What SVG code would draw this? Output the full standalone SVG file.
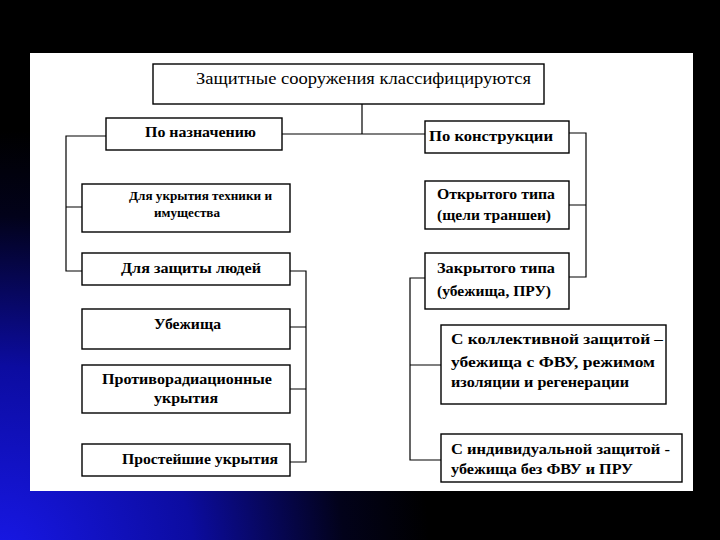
<svg xmlns="http://www.w3.org/2000/svg" width="720" height="540" viewBox="0 0 720 540">
<defs>
<radialGradient id="bg" cx="0" cy="560" r="430" gradientUnits="userSpaceOnUse">
<stop offset="0" stop-color="#1818e8"/>
<stop offset="0.45" stop-color="#0c0ca0"/>
<stop offset="0.8" stop-color="#02021a"/>
<stop offset="1" stop-color="#000"/>
</radialGradient>
<style>
.box{fill:#fff;stroke:#000;stroke-width:1.4}
.ln{fill:none;stroke:#000;stroke-width:1.2}
.t{font-size:16px}
.b{font-size:15px;font-weight:bold}
.s{font-size:12px;font-weight:bold}
.m{font-size:14px;font-weight:bold}
</style>
</defs>
<rect width="720" height="540" fill="#000"/>
<rect width="720" height="540" fill="url(#bg)"/>
<rect x="30" y="53" width="663" height="438" fill="#fff"/>

<g id="connectors">
<path class="ln" d="M362,104 V134 M282,134 H425"/>
<path class="ln" d="M106,136 H66 V271 H82 M66,207 H82"/>
<path class="ln" d="M290,271 H306 V462 H290 M290,327 H306 M290,389 H306"/>
<path class="ln" d="M569,133 H586 V277 H569 M569,205 H586"/>
<path class="ln" d="M425,278 H410 V460 H441 M410,365 H441"/>
</g>

<g font-family="Liberation Serif, Times New Roman, DejaVu Serif, serif" fill="#000">
<g id="n-root"><rect class="box" x="153" y="64" width="391" height="40"/>
<text class="t" x="196" y="84" textLength="335" lengthAdjust="spacingAndGlyphs">Защитные сооружения классифицируются</text></g>

<g id="n-naznach"><rect class="box" x="106" y="118" width="176" height="32"/>
<text class="b" x="145" y="137" textLength="111" lengthAdjust="spacingAndGlyphs">По назначению</text></g>

<g id="n-konstr"><rect class="box" x="425" y="121" width="144" height="32"/>
<text class="b" x="429" y="141" textLength="124" lengthAdjust="spacingAndGlyphs">По конструкции</text></g>

<g id="n-tehnika"><rect class="box" x="82" y="184" width="208" height="48"/>
<text class="s" x="129" y="200" textLength="143" lengthAdjust="spacingAndGlyphs">Для укрытия техники и</text>
<text class="s" x="154" y="217" textLength="66" lengthAdjust="spacingAndGlyphs">имущества</text></g>

<g id="n-lyudi"><rect class="box" x="82" y="253" width="208" height="32"/>
<text class="b" x="121" y="273" textLength="140" lengthAdjust="spacingAndGlyphs">Для защиты людей</text></g>

<g id="n-ubezh"><rect class="box" x="82" y="309" width="208" height="40"/>
<text class="b" x="154" y="329" textLength="67" lengthAdjust="spacingAndGlyphs">Убежища</text></g>

<g id="n-pru"><rect class="box" x="82" y="365" width="208" height="48"/>
<text class="b" x="102" y="384" textLength="170" lengthAdjust="spacingAndGlyphs">Противорадиационные</text>
<text class="b" x="154" y="403" textLength="64" lengthAdjust="spacingAndGlyphs">укрытия</text></g>

<g id="n-prost"><rect class="box" x="82" y="444" width="208" height="32"/>
<text class="b" x="122" y="464" textLength="156" lengthAdjust="spacingAndGlyphs">Простейшие укрытия</text></g>

<g id="n-otkr"><rect class="box" x="425" y="181" width="144" height="48"/>
<text class="b" x="437" y="199" textLength="118" lengthAdjust="spacingAndGlyphs">Открытого типа</text>
<text class="b" x="437" y="220" textLength="114" lengthAdjust="spacingAndGlyphs">(щели траншеи)</text></g>

<g id="n-zakr"><rect class="box" x="425" y="253" width="144" height="56"/>
<text class="b" x="437" y="273" textLength="118" lengthAdjust="spacingAndGlyphs">Закрытого типа</text>
<text class="b" x="437" y="296" textLength="114" lengthAdjust="spacingAndGlyphs">(убежища, ПРУ)</text></g>

<g id="n-koll"><rect class="box" x="441" y="325" width="225" height="79"/>
<text class="m" x="451" y="344" textLength="212" lengthAdjust="spacingAndGlyphs">С коллективной защитой –</text>
<text class="m" x="451" y="367" textLength="204" lengthAdjust="spacingAndGlyphs">убежища  с  ФВУ,  режимом</text>
<text class="m" x="451" y="387" textLength="178" lengthAdjust="spacingAndGlyphs">изоляции и регенерации</text></g>

<g id="n-indiv"><rect class="box" x="441" y="434" width="241" height="48"/>
<text class="m" x="451" y="454" textLength="219" lengthAdjust="spacingAndGlyphs">С индивидуальной защитой -</text>
<text class="m" x="451" y="474" textLength="182" lengthAdjust="spacingAndGlyphs">убежища без ФВУ и ПРУ</text></g>
</g>
</svg>
